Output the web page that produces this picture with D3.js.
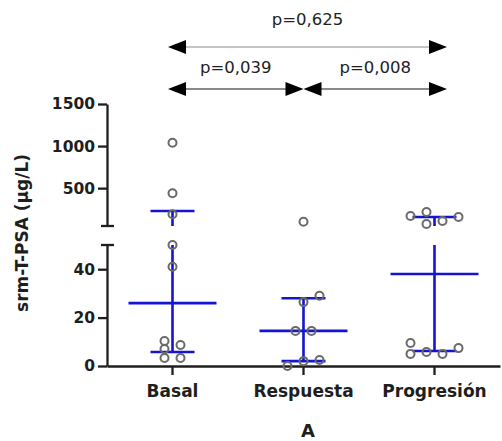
<!DOCTYPE html>
<html><head><meta charset="utf-8">
<script src="https://cdn.jsdelivr.net/npm/d3@7"></script>
<style>body{margin:0;background:#fff}</style>
</head><body>
<svg id="c" width="502" height="441"></svg>
<script>
// ---- data ----
const categories = ["Basal", "Respuesta", "Progresión"];
const basalValues = [1040, 440, 190, 50, 41, 10.3, 8.7, 7, 3.3, 3.3];
const basalSlots  = [0, 0, 0, 0, 0, -1, 1, -1, -1, 1];
const respuestaValues = [100, 29, 26.4, 14.5, 14.5, 0, 2, 2.5];
const respuestaSlots  = [0, 2, 0, -1, 1, -2, 0, 2];
const progresionValues = [169, 216, 74, 109, 157, 9.5, 5, 5.8, 5, 7.4];
const progresionSlots  = [-3, -1, -1, 1, 3, -3, -3, -1, 1, 3];
const medians = [26, 14.5, 38];
const q1s = [5.8, 2, 6.2];
const q3s = [228, 28, 157];
const lowerTicks = [0, 20, 40];
const upperTicks = [500, 1000, 1500];
const comparisons = [
  {from: "Basal", to: "Progresión", label: "p=0,625", level: 0},
  {from: "Basal", to: "Respuesta", label: "p=0,039", level: 1},
  {from: "Respuesta", to: "Progresión", label: "p=0,008", level: 1}
];

const svg = d3.select("#c");
const blue = "#1414d2";
const axisColor = "#1e1e1e";
const FONT = "'DejaVu Sans', sans-serif";

const x = d3.scaleBand().domain(categories).range([107, 500]);
const cx = c => x(c) + x.bandwidth() / 2;
const yLow = d3.scaleLinear().domain([0, 50]).range([366, 245]);
const yHigh = d3.scaleLinear().domain([50, 1500]).range([226, 104]);
const y = v => v <= 50 ? yLow(v) : yHigh(v);
const slotW = 8;

// ---- axes ----
function styleAxis(g, size) {
  g.selectAll("path.domain").attr("stroke", axisColor).attr("stroke-width", 2.3);
  g.selectAll(".tick line").attr("stroke", axisColor).attr("stroke-width", 2.3);
  g.selectAll(".tick text").attr("font-family", FONT).attr("font-weight", "bold")
    .attr("font-size", size).attr("fill", "#1e1e1e");
}
const gLow = svg.append("g").attr("transform", "translate(107,0)")
  .call(d3.axisLeft(yLow).tickValues(lowerTicks).tickFormat(d3.format("d"))
    .tickSize(9).tickSizeOuter(0).tickPadding(3));
styleAxis(gLow, 15.5);
const gHigh = svg.append("g").attr("transform", "translate(107,0)")
  .call(d3.axisLeft(yHigh).tickValues(upperTicks).tickFormat(d3.format("d"))
    .tickSize(9).tickSizeOuter(0).tickPadding(3));
styleAxis(gHigh, 15.5);
// break caps
[yLow(50), yHigh(50)].forEach(yy => {
  svg.append("line").attr("x1", 101).attr("x2", 114).attr("y1", yy).attr("y2", yy)
    .attr("stroke", axisColor).attr("stroke-width", 2.3);
});

const gx = svg.append("g").attr("transform", "translate(0,366)")
  .call(d3.axisBottom(x).tickSize(9).tickSizeOuter(0).tickPadding(10));
gx.selectAll(".tick").attr("transform", d => `translate(${cx(d)},0)`);
styleAxis(gx, 17);

// axis titles
svg.append("text").attr("transform", "translate(28,233) rotate(-90)")
  .attr("text-anchor", "middle").attr("font-family", FONT).attr("font-weight", "bold")
  .attr("font-size", 17).attr("fill", "#1e1e1e").text("srm-T-PSA (µg/L)");
svg.append("text").attr("x", 308).attr("y", 437).attr("text-anchor", "middle")
  .attr("font-family", FONT).attr("font-weight", "bold").attr("font-size", 18)
  .attr("fill", "#1e1e1e").text("A");

// ---- median + IQR ----
categories.forEach((c, i) => {
  const X = cx(c);
  const g = svg.append("g").attr("stroke", blue).attr("stroke-width", 2.6);
  const lowTop = Math.min(q3s[i], 50);
  g.append("line").attr("x1", X).attr("x2", X).attr("y1", yLow(q1s[i])).attr("y2", yLow(lowTop));
  if (q3s[i] > 50) {
    g.append("line").attr("x1", X).attr("x2", X).attr("y1", yHigh(50)).attr("y2", yHigh(q3s[i]));
  }
  g.append("line").attr("x1", X - 44).attr("x2", X + 44).attr("y1", y(medians[i])).attr("y2", y(medians[i]));
  [q1s[i], q3s[i]].forEach(q => {
    g.append("line").attr("x1", X - 22).attr("x2", X + 22).attr("y1", y(q)).attr("y2", y(q));
  });
});

// ---- points ----
const pts = [];
[[basalValues, basalSlots], [respuestaValues, respuestaSlots], [progresionValues, progresionSlots]]
  .forEach(([vals, slots], i) => vals.forEach((v, j) => pts.push({c: categories[i], v, s: slots[j]})));
svg.append("g").selectAll("circle").data(pts).join("circle")
  .attr("cx", d => cx(d.c) + d.s * slotW).attr("cy", d => y(d.v)).attr("r", 4)
  .attr("fill", "none").attr("stroke", "#6a6a6a").attr("stroke-width", 2);

// ---- comparison arrows ----
const levelY = [47, 89];
const levelText = [25, 73];
const lineCol = ["#c4c4c4", "#8a8a8a"];
comparisons.forEach(cmp => {
  const xa = cmp.from === "Basal" ? 168 : cx(cmp.from);
  const xb = cmp.to === "Progresión" ? 447 : cx(cmp.to);
  const yy = levelY[cmp.level];
  const g = svg.append("g");
  g.append("line").attr("x1", xa + 10).attr("x2", xb - 10).attr("y1", yy).attr("y2", yy)
    .attr("stroke", lineCol[cmp.level]).attr("stroke-width", 1.8);
  const L = 18, H = 7;
  g.append("path").attr("d", `M${xa},${yy}L${xa + L},${yy - H}L${xa + L},${yy + H}Z`).attr("fill", "#000");
  g.append("path").attr("d", `M${xb},${yy}L${xb - L},${yy - H}L${xb - L},${yy + H}Z`).attr("fill", "#000");
  g.append("text").attr("x", (xa + xb) / 2).attr("y", levelText[cmp.level]).attr("text-anchor", "middle")
    .attr("font-family", FONT).attr("font-size", 16.5).attr("fill", "#222").text(cmp.label);
});
</script>
</body></html>
